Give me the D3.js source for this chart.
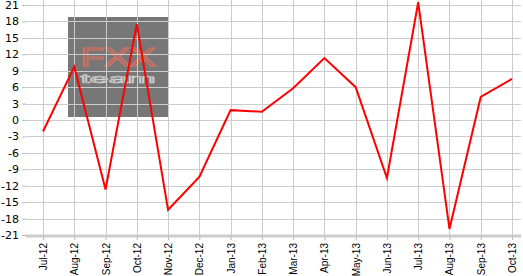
<!DOCTYPE html>
<html lang="en">
<head>
<meta charset="UTF-8">
<script src="https://d3js.org/d3.v7.min.js"></script>
<style>
	body { margin: 0; background: white; }
	svg { display: block; font-family: "DejaVu Sans", Verdana, sans-serif; }
</style>
</head>
<body>
<script>
	// months on the x axis
	const months = ["Jul-12", "Aug-12", "Sep-12", "Oct-12", "Nov-12", "Dec-12", "Jan-13", "Feb-13",
		"Mar-13", "Apr-13", "May-13", "Jun-13", "Jul-13", "Aug-13", "Sep-13", "Oct-13"];
	// series values
	const values = [-2.1, 9.7, -12.7, 17.5, -16.4, -10.4, 1.8, 1.5, 5.8, 11.3, 6.0, -10.6, 21.5, -19.9, 4.2, 7.5];
	const yTicks = d3.range(-21, 22, 3);

	const W = 523, H = 276;
	const plotLeft = 26, plotRight = 521, plotTop = 5, plotBottom = 235;

	const svg = d3.select("body").append("svg")
		.attr("width", W)
		.attr("height", H);

	const x = d3.scalePoint()
		.domain(months)
		.range([43, 512]);
	const y = d3.scaleLinear()
		.domain([-21, 21])
		.range([plotBottom, plotTop]);

	// watermark box
	const wm = svg.append("g");
	wm.append("rect")
		.attr("x", 68).attr("y", 17)
		.attr("width", 100).attr("height", 100)
		.attr("fill", "#777777");
	wm.append("text")
		.attr("x", 118).attr("y", 66)
		.attr("text-anchor", "middle")
		.attr("font-family", "'Liberation Sans', Arial, sans-serif")
		.attr("font-size", 25)
		.attr("textLength", 75)
		.attr("lengthAdjust", "spacingAndGlyphs")
		.attr("fill", "none")
		.attr("stroke", "#d8705f")
		.attr("stroke-width", 1.2)
		.text("FXX");
	wm.append("text")
		.attr("x", 118).attr("y", 83)
		.attr("text-anchor", "middle")
		.attr("font-family", "'Liberation Sans', Arial, sans-serif")
		.attr("font-size", 12)
		.attr("textLength", 75)
		.attr("lengthAdjust", "spacingAndGlyphs")
		.attr("fill", "none")
		.attr("stroke", "#d0d0d0")
		.attr("stroke-width", 0.7)
		.text("team");

	// grid
	svg.append("g").selectAll("line")
		.data(yTicks)
		.join("line")
		.attr("x1", plotLeft).attr("x2", plotRight)
		.attr("y1", d => Math.round(y(d)) + 0.5)
		.attr("y2", d => Math.round(y(d)) + 0.5)
		.attr("stroke", "#cccccc");
	svg.append("g").selectAll("line")
		.data(months)
		.join("line")
		.attr("x1", d => Math.round(x(d)) + 0.5)
		.attr("x2", d => Math.round(x(d)) + 0.5)
		.attr("y1", 0).attr("y2", plotBottom)
		.attr("stroke", "#cccccc");

	// y axis
	const yAxis = svg.append("g")
		.attr("transform", `translate(${plotLeft},0)`)
		.call(d3.axisLeft(y).tickValues(yTicks).tickSize(4).tickPadding(3)
			.tickFormat(d => String(d)));
	yAxis.select(".domain").remove();
	yAxis.selectAll("line").attr("stroke", "#bbbbbb");
	yAxis.selectAll("text").attr("font-size", 11).attr("fill", "#000")
		.attr("font-family", "Verdana, 'DejaVu Sans', sans-serif");

	// x axis
	const xAxis = svg.append("g")
		.attr("transform", `translate(0,${plotBottom + 1})`)
		.call(d3.axisBottom(x).tickSize(4).tickPadding(4));
	xAxis.select(".domain")
		.attr("d", `M${plotLeft},0H${plotRight}`)
		.attr("stroke", "#cccccc")
		.attr("stroke-width", 3);
	xAxis.selectAll("line").attr("stroke", "#bbbbbb");
	xAxis.selectAll("text")
		.attr("font-size", 10)
		.attr("fill", "#000")
		.attr("font-family", "'Liberation Sans', Arial, sans-serif")
		.attr("text-anchor", "end")
		.attr("transform", "rotate(-90)")
		.attr("x", -7)
		.attr("y", 0)
		.attr("dy", "0.35em");

	// line
	svg.append("path")
		.datum(values)
		.attr("fill", "none")
		.attr("stroke", "#ff0000")
		.attr("stroke-width", 2)
		.attr("stroke-linejoin", "miter")
		.attr("d", d3.line()
			.x((d, i) => x(months[i]))
			.y(d => y(d)));
</script>
</body>
</html>
